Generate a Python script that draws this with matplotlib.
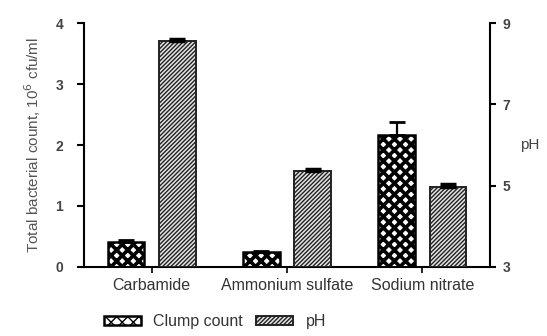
import matplotlib.pyplot as plt
import numpy as np

plt.rcParams['font.family'] = ['Liberation Sans', 'DejaVu Sans']

# nitrogen sources and measured values
sources = ['Carbamide', 'Ammonium sulfate', 'Sodium nitrate']
clump_count = [0.41, 0.25, 2.16]
clump_err = [0.03, 0.01, 0.22]
ph = [8.56, 5.35, 4.97]
ph_err = [0.04, 0.05, 0.07]

x = np.arange(len(sources))
w = 0.27
off = 0.19
zeros = [0, 0, 0]

fig = plt.figure(figsize=(5.47, 3.36), dpi=100)
ax = fig.add_axes([0.1536, 0.2054, 0.7422, 0.7261])
ax2 = ax.twinx()

# clump count on the left axis (only the upper error is shown)
b1 = ax.bar(x - off, clump_count, w, yerr=[zeros, clump_err], color='white',
            edgecolor='black', linewidth=1.8, hatch='xxx',
            error_kw=dict(ecolor='black', elinewidth=1.6, capsize=6, capthick=2))
# pH bars start from 3 on the right axis
b2 = ax2.bar(x + off, np.array(ph) - 3, w, bottom=3, yerr=[zeros, ph_err],
             color='#e4e4e4', edgecolor='#222222', linewidth=1.4, hatch='////////',
             error_kw=dict(ecolor='black', elinewidth=1.6, capsize=6, capthick=2.5))
for p in b1:
    p.set_hatch_linewidth(2.6)
for p in b2:
    p.set_hatch_linewidth(1.0)

ax.set_xlim(-0.5, 2.5)
ax.set_ylim(0, 4)
ax2.set_ylim(3, 9)
ax.set_yticks([0, 1, 2, 3, 4])
ax2.set_yticks([3, 5, 7, 9])
ax.set_xticks(x)
ax.set_xticklabels(sources, fontsize=11.5, color='#333333')

for a in (ax, ax2):
    a.spines['top'].set_visible(False)
    for s in a.spines.values():
        s.set_linewidth(1.5)
ax.spines['right'].set_visible(False)
ax2.spines['left'].set_visible(False)
ax2.spines['bottom'].set_visible(False)

ax.tick_params(axis='y', length=5, width=1.5, labelsize=10, labelcolor='#444444', pad=10)
ax.tick_params(axis='x', length=4, width=1.2, pad=4)
ax2.tick_params(axis='y', length=4, width=1.5, labelsize=10, labelcolor='#444444', pad=5)
for lab in ax.get_yticklabels() + ax2.get_yticklabels():
    lab.set_fontweight('bold')

ax.set_ylabel('Total bacterial count, 10$^6$ cfu/ml', fontsize=11, color='#555555', labelpad=9)
ax2.set_ylabel('pH', fontsize=11, color='#444444', rotation=0, labelpad=14, va='center')

fig.legend([b1, b2], ['Clump count', 'pH'], loc='center left', bbox_to_anchor=(0.19, 0.042),
           ncol=2, frameon=False, fontsize=11.5, handlelength=2.3, handleheight=0.45,
           columnspacing=0.8, handletextpad=0.8, borderpad=0, borderaxespad=0,
           labelcolor='#333333')

plt.savefig('out.png', dpi=100)
